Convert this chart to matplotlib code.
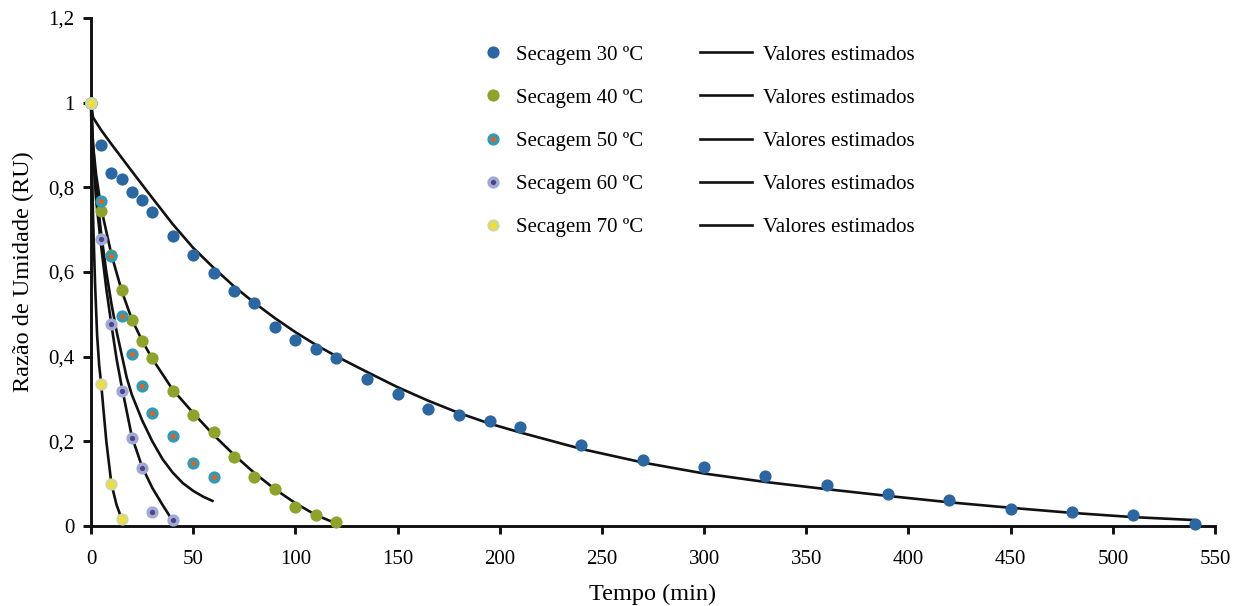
import numpy as np
import matplotlib
matplotlib.use("Agg")
import matplotlib.pyplot as plt
from matplotlib.lines import Line2D

plt.rcParams['font.family'] = ['Liberation Serif', 'DejaVu Serif']

# dados observados (tempo em min, razao de umidade)
t30 = [0, 5, 10, 15, 20, 25, 30, 40, 50, 60, 70, 80, 90, 100, 110, 120, 135, 150,
       165, 180, 195, 210, 240, 270, 300, 330, 360, 390, 420, 450, 480, 510, 540]
ru30 = [1.0, 0.900, 0.835, 0.819, 0.790, 0.769, 0.741, 0.685, 0.639, 0.598, 0.556,
        0.526, 0.470, 0.440, 0.419, 0.398, 0.348, 0.311, 0.276, 0.262, 0.248, 0.233,
        0.191, 0.155, 0.140, 0.118, 0.097, 0.076, 0.062, 0.040, 0.033, 0.026, 0.005]

t40 = [0, 5, 10, 15, 20, 25, 30, 40, 50, 60, 70, 80, 90, 100, 110, 120]
ru40 = [1.0, 0.745, 0.641, 0.557, 0.487, 0.438, 0.396, 0.319, 0.262, 0.221, 0.164,
        0.116, 0.087, 0.046, 0.025, 0.010]

t50 = [0, 5, 10, 15, 20, 25, 30, 40, 50, 60]
ru50 = [1.0, 0.768, 0.637, 0.497, 0.407, 0.331, 0.268, 0.212, 0.149, 0.115]

t60 = [0, 5, 10, 15, 20, 25, 30, 40]
ru60 = [1.0, 0.678, 0.478, 0.318, 0.208, 0.138, 0.034, 0.013]

t70 = [0, 5, 10, 15]
ru70 = [1.0, 0.335, 0.099, 0.017]

# valores estimados
te30 = [0, 1, 5, 10, 20, 30, 40, 50, 60, 70, 80, 90, 100, 110, 120, 135, 150, 165,
        180, 195, 210, 240, 270, 300, 330, 360, 390, 420, 450, 480, 510, 540]
re30 = [1.0, 0.965, 0.935, 0.902, 0.838, 0.775, 0.713, 0.657, 0.610, 0.566, 0.527,
        0.491, 0.458, 0.428, 0.401, 0.364, 0.328, 0.296, 0.267, 0.242, 0.221, 0.182,
        0.150, 0.124, 0.104, 0.087, 0.071, 0.056, 0.043, 0.031, 0.021, 0.014]

te40 = [0, 1, 2.5, 5, 10, 15, 20, 25, 30, 40, 50, 60, 70, 80, 90, 100, 110, 120]
re40 = [1.0, 0.90, 0.83, 0.75, 0.641, 0.556, 0.488, 0.438, 0.395, 0.322, 0.267,
        0.215, 0.168, 0.125, 0.087, 0.054, 0.026, 0.006]

te50 = [0, 1, 2.5, 5, 7.5, 10, 12.5, 15, 17.5, 20, 25, 30, 35, 40, 45, 50, 55, 60]
re50 = [1.0, 0.90, 0.80, 0.69, 0.60, 0.525, 0.46, 0.405, 0.35, 0.31, 0.25, 0.20,
        0.158, 0.126, 0.101, 0.083, 0.069, 0.058]

te60 = [0, 1, 2.5, 5, 7.5, 10, 12.5, 15, 20, 25, 30, 35, 40]
re60 = [1.0, 0.88, 0.77, 0.66, 0.56, 0.475, 0.395, 0.33, 0.211, 0.14, 0.09, 0.05, 0.012]

te70 = [0, 0.5, 1, 2, 3, 4, 5, 6, 7.5, 10, 12.5, 15]
re70 = [1.0, 0.85, 0.73, 0.57, 0.45, 0.38, 0.335, 0.28, 0.20, 0.099, 0.05, 0.017]

labels = ['Secagem 30 ºC', 'Secagem 40 ºC', 'Secagem 50 ºC', 'Secagem 60 ºC', 'Secagem 70 ºC']
x_ticks = [0, 50, 100, 150, 200, 250, 300, 350, 400, 450, 500, 550]
y_ticks = [0, 0.2, 0.4, 0.6, 0.8, 1.0, 1.2]
y_tick_labels = ['0', '0,2', '0,4', '0,6', '0,8', '1', '1,2']

fig = plt.figure(figsize=(12.4, 6.06), dpi=100)
ax = fig.add_axes([91 / 1240, 80 / 606, 1124 / 1240, 508 / 606])

lc = '#111111'
for te, re in [(te30, re30), (te40, re40), (te50, re50), (te60, re60), (te70, re70)]:
    ax.plot(te, re, color=lc, lw=1.9, zorder=2, solid_capstyle='butt', clip_on=False)

# estilos dos marcadores: (cor interna, cor da borda, tamanho, borda)
styles = [('#2b68a3', '#2b68a3', 8.8, 0),
          ('#8da32a', '#8da32a', 8.8, 0),
          ('#e0621c', '#2e9cb8', 6.3, 2.5),
          ('#56407f', '#9faad8', 6.3, 2.5),
          ('#fde20a', '#d3d98e', 6.3, 2.5)]
data = [(t30, ru30), (t40, ru40), (t50, ru50), (t60, ru60), (t70, ru70)]
handles = []
for (t, r), (fc, ec, ms, mew), lab in zip(data, styles, labels):
    ax.plot(t, r, 'o', color=fc, mfc=fc, mec=ec, ms=ms, mew=mew, ls='none', zorder=3,
            clip_on=False)
    handles.append(Line2D([], [], marker='o', ls='none', mfc=fc, mec=ec, ms=ms, mew=mew))

ax.set_xlim(0, 550)
ax.set_ylim(0, 1.2)
ax.set_xticks(x_ticks)
ax.set_yticks(y_ticks)
ax.set_yticklabels(y_tick_labels)
for s in ['top', 'right']:
    ax.spines[s].set_visible(False)
for s in ['left', 'bottom']:
    ax.spines[s].set_linewidth(2.1)
    ax.spines[s].set_color(lc)
ax.tick_params(direction='out', length=6, width=2.1, color=lc, labelsize=15)
ax.tick_params(axis='x', pad=11)
ax.tick_params(axis='y', pad=6)
ax.set_xlabel('Tempo (min)', fontsize=17.5, labelpad=11)
ax.set_ylabel('Razão de Umidade (RU)', fontsize=17.5, labelpad=10)

leg1 = fig.legend(handles, labels, loc='upper left', bbox_to_anchor=(483 / 1240, 1 - 45 / 606),
                  frameon=False, fontsize=15, handlelength=1.0, handletextpad=0.6,
                  labelspacing=1.13, borderpad=0, borderaxespad=0)
line_handles = [Line2D([], [], color=lc, lw=1.9) for _ in labels]
leg2 = fig.legend(line_handles, ['Valores estimados'] * 5, loc='upper left',
                  bbox_to_anchor=(700 / 1240, 1 - 45 / 606), frameon=False, fontsize=15,
                  handlelength=2.5, handletextpad=0.5, labelspacing=1.13, borderpad=0,
                  borderaxespad=0)

fig.savefig('out.png', dpi=100)
